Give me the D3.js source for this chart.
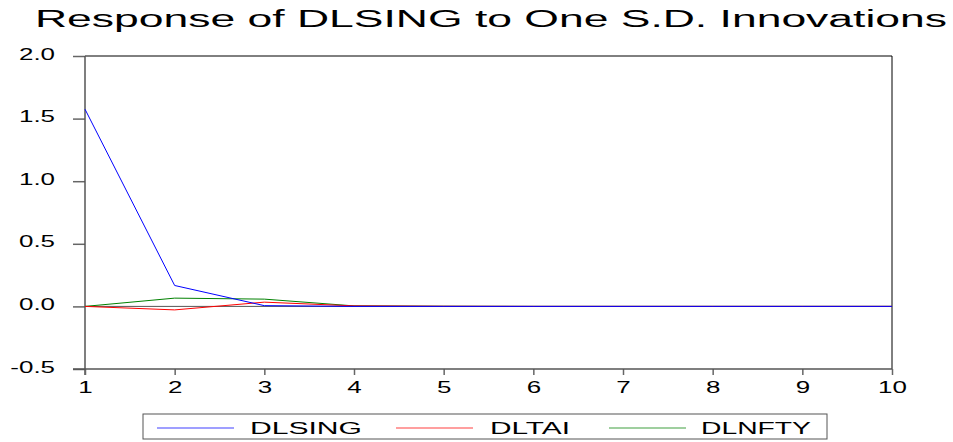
<!DOCTYPE html>
<html><head><meta charset="utf-8">
<script src="https://cdn.jsdelivr.net/npm/d3@7"></script>
<style>
body{margin:0;background:#fff;}
svg{display:block;font-family:"Liberation Sans",Arial,sans-serif;}
</style></head>
<body>
<svg id="chart" width="953" height="442"></svg>
<script>
const titleText = "Response of DLSING to One S.D. Innovations";
const periods = [1,2,3,4,5,6,7,8,9,10];
const seriesNames = ["DLSING","DLTAI","DLNFTY"];
const dlsing = [1.575, 0.167, 0.006, 0.000, 0.000, 0.000, 0.000, 0.000, 0.000, 0.000];
const dltai  = [0.000, -0.028, 0.034, 0.004, 0.001, 0.000, 0.000, 0.000, 0.000, 0.000];
const dlnfty = [0.000, 0.066, 0.058, 0.004, 0.001, 0.000, 0.000, 0.000, 0.000, 0.000];
const yTicks = [-0.5, 0.0, 0.5, 1.0, 1.5, 2.0];
const xTicks = [1,2,3,4,5,6,7,8,9,10];

const lineColors = ["#0000ff","#ff0000","#008000"];
const legendColors = ["#7f7fff","#ff7f7f","#7fbf7f"];
const STRETCH = 1.62;

const svg = d3.select("#chart");
const L = 85, R = 892, T = 56, B = 369;
const x = d3.scaleLinear().domain([1,10]).range([L,R]);
const y = d3.scaleLinear().domain([-0.5,2.0]).range([B,T]);

// title
svg.append("text").attr("x",35).attr("y",27)
  .attr("font-size",23).attr("fill","#000")
  .attr("textLength",912).attr("lengthAdjust","spacingAndGlyphs")
  .text(titleText);

// top/right border
svg.append("path").attr("d",`M${L},${T}H${R}V${B}`)
  .attr("fill","none").attr("stroke","#000").attr("stroke-width",1);

// zero line
svg.append("line").attr("x1",L).attr("x2",R).attr("y1",y(0)).attr("y2",y(0))
  .attr("stroke","#555").attr("stroke-width",1);

// y axis
const yAxis = svg.append("g").attr("transform",`translate(${L},0)`)
  .call(d3.axisLeft(y).tickValues(yTicks).tickSize(12).tickPadding(18)
    .tickFormat(d=>d.toFixed(1).replace("\u2212","-")));
yAxis.select(".domain").remove();
yAxis.selectAll(".tick line").attr("stroke","#666").attr("stroke-width",1.5);
yAxis.selectAll(".tick text").attr("font-size",16).attr("fill","#000")
  .attr("font-family","Liberation Sans, Arial, sans-serif")
  .attr("dy",null).attr("y",3);
svg.append("line").attr("x1",L).attr("x2",L).attr("y1",T).attr("y2",B+6)
  .attr("stroke","#555").attr("stroke-width",1.5);

// x axis
const xAxis = svg.append("g").attr("transform",`translate(0,${B})`)
  .call(d3.axisBottom(x).tickValues(xTicks).tickSize(6).tickPadding(0).tickFormat(d3.format("d")));
xAxis.select(".domain").remove();
xAxis.selectAll(".tick line").attr("stroke","#666").attr("stroke-width",1.5);
xAxis.selectAll(".tick text").attr("font-size",16).attr("fill","#000")
  .attr("font-family","Liberation Sans, Arial, sans-serif")
  .attr("dy",null).attr("y",24);
svg.append("line").attr("x1",L-12).attr("x2",R).attr("y1",B).attr("y2",B)
  .attr("stroke","#555").attr("stroke-width",1.5);

// stretch tick labels
svg.selectAll(".tick text").each(function(){
  const w = this.getComputedTextLength();
  d3.select(this).attr("textLength",w*STRETCH).attr("lengthAdjust","spacingAndGlyphs");
});

// lines
const allSeries = [dlsing, dltai, dlnfty];
const lineGen = d3.line().x((d,i)=>x(periods[i])).y(d=>y(d));
[2,1,0].forEach(k=>{
  svg.append("path").datum(allSeries[k]).attr("d",lineGen)
    .attr("fill","none").attr("stroke",lineColors[k]).attr("stroke-width",1);
});

// legend
svg.append("rect").attr("x",143).attr("y",414).attr("width",684).attr("height",25)
  .attr("fill","#fff").attr("stroke","#555").attr("stroke-width",1);
const legLineX = [157,396,609];
const legTextX = [250,490,701];
const legTextW = [112,80,110];
seriesNames.forEach((n,i)=>{
  svg.append("line").attr("x1",legLineX[i]).attr("x2",legLineX[i]+77)
    .attr("y1",428).attr("y2",428).attr("stroke",legendColors[i]).attr("stroke-width",1.5);
  svg.append("text").attr("x",legTextX[i]).attr("y",434).attr("font-size",16)
    .attr("fill","#000").attr("textLength",legTextW[i]).attr("lengthAdjust","spacingAndGlyphs")
    .text(n);
});
</script>
</body></html>
